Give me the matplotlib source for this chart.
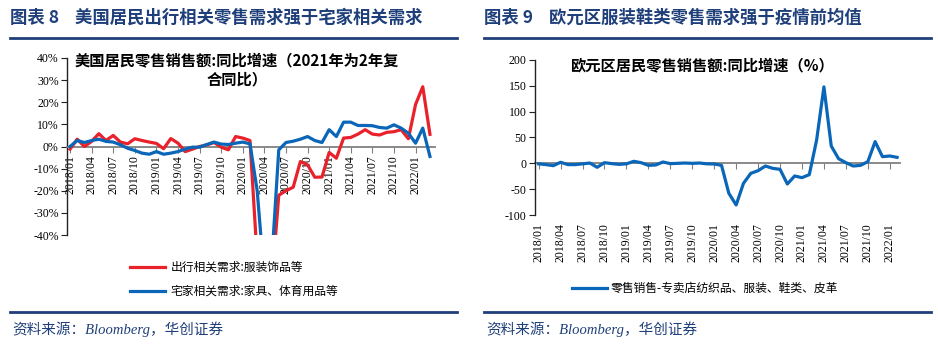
import pandas as pd
import matplotlib
matplotlib.use("Agg")
import matplotlib.pyplot as plt
from matplotlib.lines import Line2D

CJK = ['Noto Sans CJK SC', 'DejaVu Sans']
NUM = 'Liberation Serif'
NAVY = '#1f3f7a'
RED = '#e8212b'
BLUE = '#0a66b8'

# US retail sales yoy (%), 2018/01 - 2022/03
us_months = pd.date_range('2018-01-01', periods=51, freq='MS').strftime('%Y/%m').tolist()
us_travel = [-1.2, 3.3, 0.0, 2.3, 5.8, 2.7, 5.0, 2.0, 1.2, 3.5, 2.7, 2.0, 1.4,
             -1.0, 3.6, 1.5, -2.3, -1.2, 0.0, 0.7, 1.8, -0.3, -1.5, 4.5, 3.8, 2.7,
             -50.5, -89.0, -63.0, -22.0, -20.0, -18.4, -6.8, -8.3, -13.9, -13.8,
             -2.7, -5.3, 3.8, 4.1, 5.6, 7.6, 5.6, 5.2, 6.4, 6.7, 7.6, 3.5, 19.0,
             27.0, 5.5]
us_home = [0.0, 2.7, 1.8, 2.7, 3.3, 2.3, 2.0, 0.8, -0.8, -1.8, -3.0, -3.5, -2.3,
           -3.5, -3.0, -2.3, -1.2, -0.3, -0.3, 0.9, 2.0, 1.1, 0.9, 1.5, 2.0, 1.2,
           -20.0, -60.0, -53.0, -1.5, 1.8, 2.4, 3.3, 4.5, 2.7, 1.8, 7.6, 4.5,
           11.0, 11.0, 9.5, 9.5, 9.4, 8.6, 8.3, 9.8, 8.3, 6.0, 1.5, 8.3, -4.5]

# Euro area retail sales yoy (%), 2018/01 - 2022/02
eu_months = us_months[:50]
eu_textile = [-1.0, -2.5, -4.5, 2.0, -2.5, -2.5, -1.0, 0.6, -7.7, 1.3, -0.6, -2.0,
              -1.0, 3.9, 1.3, -3.9, -3.2, 2.6, -0.6, 0.0, 0.6, 0.0, 0.6, -1.0,
              -1.3, -3.9, -58.0, -80.6, -38.7, -19.4, -14.2, -5.2, -9.7, -11.6,
              -40.0, -24.5, -27.7, -21.9, 45.0, 148.0, 33.5, 9.0, 1.3, -5.2,
              -3.9, 3.2, 42.0, 12.9, 14.2, 11.6]

W, H = 938, 355
fig = plt.figure(figsize=(W / 100, H / 100), dpi=100)


def fx(px):
    return px / W


def fy(py):
    return 1 - py / H


def style_left(ax):
    for s in ['top', 'right']:
        ax.spines[s].set_visible(False)
    ax.spines['left'].set_color('#222222')
    ax.spines['left'].set_linewidth(1.0)
    ax.tick_params(axis='y', direction='out', length=4, width=0.8, color='#222222',
                   labelsize=8.5, pad=2)


# left chart: month labels hang right under the zero line
ax1 = fig.add_axes([fx(67), fy(235), fx(435 - 67), (235 - 58) / H])
x1 = list(range(len(us_months)))
ax1.plot(x1, us_travel, color=RED, lw=2.3, label='出行相关需求:服装饰品等', zorder=3)
ax1.plot(x1, us_home, color=BLUE, lw=2.3, label='宅家相关需求:家具、体育用品等', zorder=4)
ax1.set_xlim(-0.42, 50.7)
ax1.set_ylim(-40, 40)
ax1.set_yticks(range(-40, 41, 10))
ax1.set_yticklabels([f'{v}%' for v in range(-40, 41, 10)])
style_left(ax1)
ax1.spines['bottom'].set_position(('data', 0))
ax1.spines['bottom'].set_color('#808080')
ax1.spines['bottom'].set_linewidth(1.3)
ax1.tick_params(axis='x', direction='out', length=4, width=0.8, color='#808080',
                labelsize=8.5, pad=2)
ax1.set_xticks(range(0, len(us_months), 3))
ax1.set_xticklabels(us_months[::3], rotation=90)
for lab in ax1.get_xticklabels() + ax1.get_yticklabels():
    lab.set_fontfamily(NUM)
ax1.legend(loc='upper left', bbox_to_anchor=(fx(124), fy(255)),
           bbox_transform=fig.transFigure, frameon=False, borderpad=0,
           handlelength=3.0, handletextpad=0.45, labelspacing=0.95,
           prop={'family': CJK, 'size': 8.5})

fig.text(fx(237), fy(52), '美国居民零售销售额:同比增速（2021年为2年复\n合同比）',
         ha='center', va='top', multialignment='center', fontsize=11,
         fontweight='bold', family=CJK, linespacing=1.25)

# right chart: labels at the bottom, ticks on the zero line
ax2 = fig.add_axes([fx(535), fy(215), fx(900 - 535), (215 - 60) / H])
x2 = list(range(len(eu_months)))
ax2.plot(x2, eu_textile, color=BLUE, lw=2.3,
         label='零售销售-专卖店纺织品、服装、鞋类、皮革', zorder=3)
ax2.set_xlim(-0.5, 49.4)
ax2.set_ylim(-100, 200)
ax2.set_yticks(range(-100, 201, 50))
ax2.set_yticklabels([str(v) for v in range(-100, 201, 50)])
style_left(ax2)
ax2.spines['bottom'].set_visible(False)
ax2.set_xticks(range(0, len(eu_months), 3))
ax2.set_xticklabels(eu_months[::3], rotation=90)
ax2.tick_params(axis='x', length=0, labelsize=8.5, pad=6)
for lab in ax2.get_xticklabels() + ax2.get_yticklabels():
    lab.set_fontfamily(NUM)
zero = ax2.secondary_xaxis(1 / 3)
zero.set_xticks(range(0, len(eu_months), 3))
zero.set_xticklabels([])
zero.spines['bottom'].set_color('#808080')
zero.spines['bottom'].set_linewidth(1.3)
zero.tick_params(axis='x', direction='out', length=4, width=0.8, color='#808080')
ax2.legend(loc='upper left', bbox_to_anchor=(fx(566), fy(276)),
           bbox_transform=fig.transFigure, frameon=False, borderpad=0,
           handlelength=3.0, handletextpad=0.25,
           prop={'family': CJK, 'size': 8.5})

fig.text(fx(702), fy(65), '欧元区居民零售销售额:同比增速（%）', ha='center',
         va='center', fontsize=11, fontweight='bold', family=CJK)

# headers and footers
fig.text(fx(10), fy(18), '图表 8    美国居民出行相关零售需求强于宅家相关需求',
         ha='left', va='center', fontsize=12.5, fontweight='bold', color=NAVY,
         family=CJK)
fig.text(fx(484), fy(18), '图表 9    欧元区服装鞋类零售需求强于疫情前均值',
         ha='left', va='center', fontsize=12.5, fontweight='bold', color=NAVY,
         family=CJK)
for x0, x1_ in [(10, 457), (484, 931)]:
    fig.add_artist(Line2D([fx(x0), fx(x1_)], [fy(38), fy(38)], color=NAVY, lw=2.0))
    fig.add_artist(Line2D([fx(x0), fx(x1_)], [fy(312), fy(312)], color=NAVY, lw=2.0))
for x0 in [12, 486]:
    fig.text(fx(x0), fy(329), '资料来源：Bloomberg，华创证券', ha='left', va='center',
             fontsize=10.5, style='italic', color=NAVY,
             family=['Liberation Serif', 'Noto Sans CJK SC'])

fig.savefig('out.png', dpi=100)
